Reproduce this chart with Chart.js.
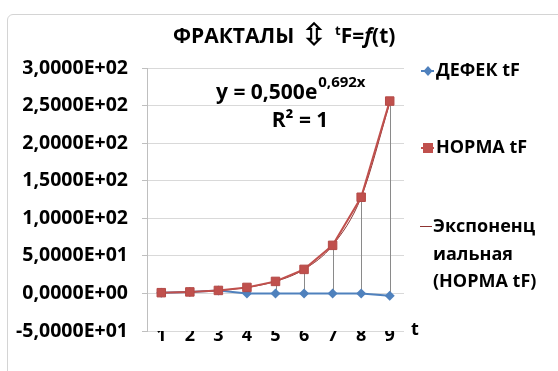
<!DOCTYPE html>
<html>
<head>
<meta charset="utf-8">
<script src="https://cdn.jsdelivr.net/npm/chart.js@4.4.1/dist/chart.umd.min.js"></script>
<style>
  html, body { margin: 0; padding: 0; background: #fff; }
  #wrap { position: relative; width: 558px; height: 371px; overflow: hidden; background: #fff; }
  #frame { position: absolute; left: 7px; top: 14px; width: 620px; height: 420px;
           border: 1px solid #d4d4d4; border-radius: 6px; }
  #chart { position: absolute; left: 0; top: 0; }
</style>
</head>
<body>
<div id="wrap">
  <div id="frame"></div>
  <canvas id="chart" width="558" height="371"></canvas>
</div>
<script>
// --- данные ---
const categories = ['1', '2', '3', '4', '5', '6', '7', '8', '9']
const defekTF = [1, 2, 4, 0, 0, 0, 0, 0, -3]
const normaTF = [1, 2, 4, 8, 16, 32, 64, 128, 256]
// линия тренда (экспоненциальная) по точкам категорий
const trendTF = [1, 2, 4, 8, 16, 32, 64, 128, 253]
const yTickLabels = ['-5,0000E+01', '0,0000E+00', '5,0000E+01', '1,0000E+02',
  '1,5000E+02', '2,0000E+02', '2,5000E+02', '3,0000E+02']

const seriesNames = ['ДЕФЕК tF', 'НОРМА tF', ['Экспоненц', 'иальная', '(НОРМА tF)']]
const axisNameX = 't'
const eqMain = 'y = 0,500e'
const eqPow = '0,692x'
const eqR2 = 'R² = 1'

const FONT = '"Open Sans", "DejaVu Sans", sans-serif'
const BLUE = '#4F81BD'
const RED = '#C0504D'
const TREND = '#8E3431'

// заголовок из кусков: [текст, шрифт, x (null = сразу за предыдущим), сдвиг по y]
const titleParts = [
  ['ФРАКТАЛЫ', `bold 21px ${FONT}`, 173, 0],
  ['⇳', 'bold 31px "DejaVu Sans"', 301, 2],
  ['t', `bold 13px ${FONT}`, 335, -8],
  ['F=', `bold 21px ${FONT}`, null, 0],
  ['f', `italic bold 21px ${FONT}`, null, 0],
  ['(t)', `bold 21px ${FONT}`, null, 0]
]

// высоко-низкие линии между рядами
const hiLoLines = {
  id: 'hiLoLines',
  beforeDatasetsDraw(chart) {
    const a = chart.getDatasetMeta(0).data
    const b = chart.getDatasetMeta(1).data
    const ctx = chart.ctx
    ctx.save()
    ctx.strokeStyle = '#8a8a8a'
    ctx.lineWidth = 1
    for (let i = 0; i < a.length; i++) {
      ctx.beginPath()
      ctx.moveTo(Math.round(a[i].x) + 0.5, a[i].y)
      ctx.lineTo(Math.round(b[i].x) + 0.5, b[i].y)
      ctx.stroke()
    }
    ctx.restore()
  }
}

// подписи: заголовок, уравнение, легенда
const labelsPlugin = {
  id: 'labelsPlugin',
  afterDraw(chart) {
    const ctx = chart.ctx
    ctx.save()
    ctx.fillStyle = '#000'
    ctx.textBaseline = 'alphabetic'

    // заголовок
    let x = 0
    for (const p of titleParts) {
      ctx.font = p[1]
      if (p[2] !== null) x = p[2]
      ctx.fillText(p[0], x, 43 + p[3])
      x += ctx.measureText(p[0]).width
    }

    // уравнение тренда
    ctx.font = `bold 21px ${FONT}`
    const w1 = ctx.measureText(eqMain).width
    ctx.fillText(eqMain, 216, 99)
    ctx.font = `bold 15px ${FONT}`
    ctx.fillText(eqPow, 216 + w1 + 1, 87)
    ctx.font = `bold 21px ${FONT}`
    ctx.textAlign = 'center'
    ctx.fillText(eqR2, 300, 127)
    ctx.textAlign = 'left'

    // подпись оси t
    ctx.font = `bold 18px ${FONT}`
    ctx.fillText(axisNameX, 411, 335)

    // легенда
    ctx.font = `bold 18px ${FONT}`
    ctx.textBaseline = 'middle'
    // ДЕФЕК
    ctx.strokeStyle = BLUE
    ctx.lineWidth = 2
    ctx.beginPath(); ctx.moveTo(421, 71); ctx.lineTo(434, 71); ctx.stroke()
    ctx.fillStyle = BLUE
    ctx.beginPath()
    ctx.moveTo(428, 66); ctx.lineTo(432.5, 71); ctx.lineTo(428, 76); ctx.lineTo(423.5, 71)
    ctx.closePath(); ctx.fill()
    ctx.fillStyle = '#000'
    ctx.fillText(seriesNames[0], 436, 71)
    // НОРМА
    ctx.strokeStyle = RED
    ctx.beginPath(); ctx.moveTo(421, 148); ctx.lineTo(434, 148); ctx.stroke()
    ctx.fillStyle = RED
    ctx.fillRect(423, 143, 10, 10)
    ctx.fillStyle = '#000'
    ctx.fillText(seriesNames[1], 436, 148)
    // тренд
    ctx.strokeStyle = TREND
    ctx.lineWidth = 1
    ctx.beginPath(); ctx.moveTo(420, 226.5); ctx.lineTo(432, 226.5); ctx.stroke()
    seriesNames[2].forEach((s, i) => ctx.fillText(s, 433, 227 + i * 27.5))
    ctx.restore()
  }
}

new Chart(document.getElementById('chart'), {
  type: 'line',
  data: {
    labels: categories,
    datasets: [{
      label: seriesNames[0],
      data: defekTF,
      borderColor: BLUE,
      backgroundColor: BLUE,
      borderWidth: 2,
      pointStyle: 'rectRot',
      pointRadius: 5,
      pointBorderWidth: 0,
      order: 2
    }, {
      label: seriesNames[1],
      data: normaTF,
      borderColor: RED,
      backgroundColor: RED,
      borderWidth: 2,
      pointStyle: 'rect',
      pointRadius: 6,
      pointBorderColor: '#b44a47',
      pointBorderWidth: 1,
      order: 0
    }, {
      label: seriesNames[2].join(''),
      data: trendTF,
      borderColor: TREND,
      borderWidth: 1,
      pointRadius: 0,
      cubicInterpolationMode: 'monotone',
      order: 1
    }]
  },
  options: {
    responsive: false,
    animation: false,
    devicePixelRatio: 1,
    layout: { padding: { left: 0, top: 68, right: 154, bottom: 0 } },
    plugins: {
      legend: { display: false },
      title: { display: false },
      tooltip: { enabled: false }
    },
    scales: {
      x: {
        offset: true,
        grid: { display: false },
        border: { display: false },
        ticks: {
          color: '#000',
          font: { family: FONT, size: 18, weight: 'bold' },
          padding: -14,
          maxRotation: 0
        },
        afterFit: s => { s.height = 40 }
      },
      y: {
        min: -50,
        max: 300,
        grid: { color: '#d9d9d9', tickLength: 5, tickColor: '#bfbfbf' },
        border: { color: '#bfbfbf' },
        ticks: {
          stepSize: 50,
          color: '#000',
          padding: 14,
          font: { family: FONT, size: 19.5, weight: 'bold' },
          callback: (v, i) => yTickLabels[i]
        },
        afterFit: s => { s.width = 147 }
      }
    }
  },
  plugins: [hiLoLines, labelsPlugin]
})
</script>
</body>
</html>
